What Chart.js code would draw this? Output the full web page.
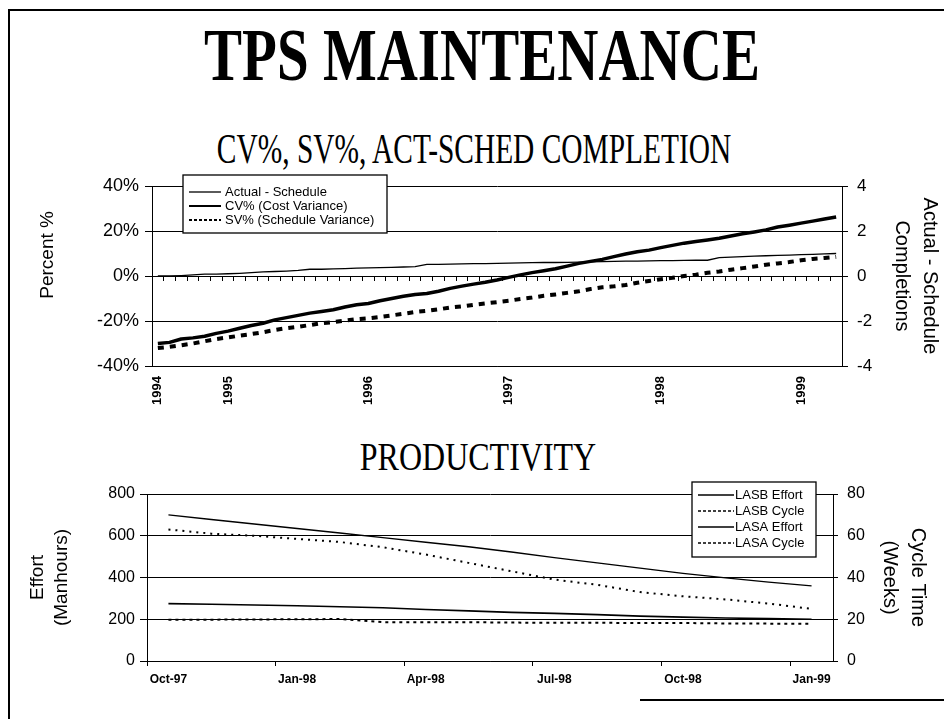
<!DOCTYPE html>
<html>
<head>
<meta charset="utf-8">
<script src="https://cdn.jsdelivr.net/npm/chart.js@4.4.0/dist/chart.umd.min.js"></script>
<style>
  body { margin: 0; background: #fff; }
  #page { position: relative; width: 944px; height: 719px; overflow: hidden; background: #fff; }
  .rule { position: absolute; background: #000; }
  .title {
    position: absolute; width: 944px; text-align: center; color: #000;
    font-family: "Liberation Serif", "Times New Roman", serif;
    line-height: 1; white-space: nowrap; transform-origin: 50% 50%;
  }
  canvas { position: absolute; left: 0; }
</style>
</head>
<body>
<div id="page">
  <div class="rule" style="left:8px; top:9px; width:2px; height:710px;"></div>
  <div class="rule" style="left:8px; top:9px; width:936px; height:2px;"></div>
  <div class="rule" style="left:640px; top:699px; width:304px; height:2px;"></div>

  <div class="title" style="left:10px; top:17px; font-size:75px; font-weight:bold; transform:scaleX(0.76);">TPS MAINTENANCE</div>
  <div class="title" style="left:2px; top:128px; font-size:42px; transform:scaleX(0.70);">CV%, SV%, ACT-SCHED COMPLETION</div>
  <div class="title" style="left:6px; top:437px; font-size:40px; transform:scaleX(0.80);">PRODUCTIVITY</div>

  <canvas id="topChart" width="944" height="260" style="top:160px;"></canvas>
  <canvas id="prodChart" width="944" height="249" style="top:470px;"></canvas>
</div>

<script>
// Top chart: monthly points, year label where the year starts
const topCategories = [
  '1994', '', '', '', '', '', '1995', '', '', '',
  '', '', '', '', '', '', '', '', '1996', '',
  '', '', '', '', '', '', '', '', '', '',
  '1997', '', '', '', '', '', '', '', '', '',
  '', '', '', '1998', '', '', '', '', '', '',
  '', '', '', '', '', '1999', '', '', ''
];

// Actual - Schedule completions (right axis)
const actualMinusSchedule = [
  0, 0, 0.02, 0.05, 0.08, 0.08, 0.1, 0.12, 0.15, 0.18,
  0.2, 0.22, 0.25, 0.3, 0.3, 0.32, 0.33, 0.35, 0.36, 0.37,
  0.38, 0.4, 0.42, 0.52, 0.52, 0.53, 0.54, 0.55, 0.55, 0.56,
  0.57, 0.58, 0.59, 0.6, 0.6, 0.61, 0.62, 0.63, 0.64, 0.65,
  0.66, 0.66, 0.67, 0.68, 0.68, 0.69, 0.7, 0.7, 0.82, 0.84,
  0.86, 0.88, 0.9, 0.92, 0.93, 0.95, 0.96, 0.98, 1.0
];

// CV% (left axis)
const cvPercent = [
  -30.0, -29.5, -28.0, -27.5, -26.8, -25.5, -24.5, -23.2, -22.0, -21.0,
  -19.5, -18.5, -17.5, -16.5, -15.8, -15.0, -13.8, -12.8, -12.2, -11.0,
  -10.0, -9.0, -8.2, -7.8, -6.8, -5.5, -4.5, -3.6, -2.8, -1.8,
  -0.6, 0.5, 1.5, 2.3, 3.2, 4.4, 5.6, 6.5, 7.4, 8.6,
  9.8, 10.8, 11.5, 12.6, 13.6, 14.6, 15.3, 16.0, 16.8, 17.8,
  18.8, 19.6, 20.5, 21.8, 22.6, 23.5, 24.4, 25.3, 26.2
];

// SV% (left axis)
const svPercent = [
  -32.0, -31.5, -30.8, -30.0, -29.0, -28.0, -27.3, -26.5, -25.8, -25.0,
  -24.0, -23.2, -22.6, -21.8, -21.0, -20.5, -19.8, -19.2, -18.8, -18.2,
  -17.5, -16.8, -16.0, -15.5, -14.8, -14.0, -13.5, -12.8, -12.2, -11.6,
  -11.0, -10.2, -9.6, -8.8, -8.2, -7.5, -6.8, -5.8, -5.0, -4.6,
  -4.0, -3.0, -2.2, -1.4, -0.8, 0.0, 0.6, 1.4, 2.0, 2.8,
  3.5, 4.2, 5.0, 5.6, 6.2, 7.0, 7.6, 8.0, 8.5
];

// Productivity chart
const prodMonths = [
  'Oct-97', 'Nov-97', 'Dec-97', 'Jan-98', 'Feb-98', 'Mar-98', 'Apr-98', 'May-98',
  'Jun-98', 'Jul-98', 'Aug-98', 'Sep-98', 'Oct-98', 'Nov-98', 'Dec-98', 'Jan-99'
];
const lasbEffort = [700, 678, 656, 635, 613, 591, 569, 547, 522, 495, 470, 445, 420, 398, 378, 360];
const lasbCycle = [63, 61, 60, 58.5, 57, 54.5, 51, 47, 43, 39, 36.5, 33, 31, 29.5, 27.5, 25];
const lasaEffort = [275, 272, 268, 265, 260, 255, 247, 240, 233, 228, 222, 215, 210, 206, 203, 200];
const lasaCycle = [19.8, 19.8, 19.9, 20, 20.1, 18.6, 18.5, 18.6, 18.4, 18.3, 18.3, 18.2, 18.2, 18.0, 17.9, 17.8];

const sansFont = '"Liberation Sans", Arial, sans-serif';

// Boxed legend drawn over the plot, like the old spreadsheet charts
const boxLegend = {
  id: 'boxLegend',
  afterDraw(chart, args, opts) {
    const { ctx, chartArea } = chart;
    const left = opts.side === 'right'
      ? chartArea.right - opts.offsetX - opts.width
      : chartArea.left + opts.offsetX;
    const top = chartArea.top + opts.offsetY;

    ctx.save();
    ctx.fillStyle = '#fff';
    ctx.fillRect(left, top, opts.width, opts.height);
    ctx.strokeStyle = '#000';
    ctx.lineWidth = 1.3;
    ctx.strokeRect(left, top, opts.width, opts.height);

    ctx.font = opts.fontSize + 'px ' + sansFont;
    ctx.textBaseline = 'middle';
    ctx.textAlign = 'left';
    chart.data.datasets.forEach((ds, i) => {
      const y = top + opts.firstRow + i * opts.rowGap;
      ctx.beginPath();
      ctx.lineWidth = Math.min(ds.borderWidth, opts.maxLineWidth);
      ctx.setLineDash(ds.borderDash ? opts.dash : []);
      ctx.moveTo(left + opts.sampleStart, y);
      ctx.lineTo(left + opts.sampleStart + opts.sampleLength, y);
      ctx.stroke();
      ctx.setLineDash([]);
      ctx.fillStyle = '#000';
      ctx.fillText(ds.label, left + opts.textStart, y);
    });
    ctx.restore();
  }
};

new Chart(document.getElementById('topChart'), {
  type: 'line',
  data: {
    labels: topCategories,
    datasets: [
      {
        label: 'Actual - Schedule',
        data: actualMinusSchedule,
        xAxisID: 'x', yAxisID: 'y2',
        borderColor: '#000', borderWidth: 1.3,
        pointRadius: 0
      },
      {
        label: 'CV% (Cost Variance)',
        data: cvPercent,
        xAxisID: 'x', yAxisID: 'y',
        borderColor: '#000', borderWidth: 3.5, borderJoinStyle: 'round',
        pointRadius: 0
      },
      {
        label: 'SV% (Schedule Variance)',
        data: svPercent,
        xAxisID: 'x', yAxisID: 'y',
        borderColor: '#000', borderWidth: 4, borderDash: [6, 6],
        pointRadius: 0
      }
    ]
  },
  options: {
    responsive: false,
    animation: false,
    layout: { padding: { top: 26, left: 0, right: 0, bottom: 0 } },
    plugins: {
      legend: { display: false },
      tooltip: { enabled: false },
      boxLegend: {
        side: 'left', offsetX: 31, offsetY: -11, width: 204, height: 58,
        firstRow: 17, rowGap: 14, sampleStart: 6, sampleLength: 32, textStart: 42,
        fontSize: 13, dash: [3, 2], maxLineWidth: 2
      }
    },
    scales: {
      x: {
        type: 'category',
        position: 'bottom',
        offset: true,
        grid: { display: false, drawTicks: false, offset: true },
        border: { display: true, color: '#000', width: 1 },
        ticks: {
          autoSkip: false, minRotation: 90, maxRotation: 90, padding: 10,
          color: '#000', font: { family: sansFont, size: 13, weight: 'bold' }
        },
        afterFit: s => { s.height = 54; }
      },
      xz: {
        type: 'category',
        position: { y: 0 },
        offset: true,
        grid: { offset: true, drawOnChartArea: false, tickLength: 4, tickColor: '#000', tickWidth: 1 },
        border: { display: true, color: '#000', width: 1 },
        ticks: { display: false }
      },
      y: {
        position: 'left',
        min: -40, max: 40,
        grid: { color: '#000', lineWidth: 1, tickLength: 7, tickColor: '#000' },
        border: { color: '#000', width: 1 },
        ticks: {
          stepSize: 20, padding: 6, color: '#000',
          font: { family: sansFont, size: 18 },
          callback: v => v + '%'
        },
        title: {
          // leading spaces lift the title a little above the axis centre, as in the original
          display: true, text: '        Percent %', color: '#000',
          font: { family: sansFont, size: 19 }, padding: { top: 36, bottom: 0 }
        },
        afterFit: s => { s.width = 152; }
      },
      y2: {
        position: 'right',
        min: -4, max: 4,
        grid: { drawOnChartArea: false, tickLength: 6, tickColor: '#000' },
        border: { color: '#000', width: 1 },
        ticks: {
          stepSize: 2, padding: 9, color: '#000',
          font: { family: sansFont, size: 17 }
        },
        title: {
          display: true, text: ['Actual - Schedule', 'Completions'], color: '#000',
          font: { family: sansFont, size: 20, lineHeight: 1.4 }, padding: { top: 0, bottom: 0 }
        },
        afterFit: s => { s.width = 102; }
      }
    }
  },
  plugins: [boxLegend]
});

new Chart(document.getElementById('prodChart'), {
  type: 'line',
  data: {
    labels: prodMonths,
    datasets: [
      {
        label: 'LASB Effort', data: lasbEffort, yAxisID: 'y',
        borderColor: '#000', borderWidth: 1.4, pointRadius: 0
      },
      {
        label: 'LASB Cycle', data: lasbCycle, yAxisID: 'y2',
        borderColor: '#000', borderWidth: 2, borderDash: [2, 5], pointRadius: 0
      },
      {
        label: 'LASA Effort', data: lasaEffort, yAxisID: 'y',
        borderColor: '#000', borderWidth: 1.6, pointRadius: 0
      },
      {
        label: 'LASA Cycle', data: lasaCycle, yAxisID: 'y2',
        borderColor: '#000', borderWidth: 2, borderDash: [3, 4], pointRadius: 0
      }
    ]
  },
  options: {
    responsive: false,
    animation: false,
    layout: { padding: { top: 24, left: 0, right: 0, bottom: 0 } },
    plugins: {
      legend: { display: false },
      tooltip: { enabled: false },
      boxLegend: {
        side: 'right', offsetX: 17, offsetY: -12, width: 124, height: 75,
        firstRow: 13, rowGap: 16, sampleStart: 6, sampleLength: 36, textStart: 43,
        fontSize: 13, dash: [3, 2], maxLineWidth: 1.5
      }
    },
    scales: {
      x: {
        offset: true,
        grid: {
          offset: true, drawOnChartArea: false, tickLength: 5,
          tickColor: c => (c.index % 3 === 0 ? '#000' : 'rgba(0,0,0,0)')
        },
        border: { color: '#000', width: 1 },
        ticks: {
          autoSkip: false, maxRotation: 0, padding: 6, color: '#000',
          font: { family: sansFont, size: 12, weight: 'bold' },
          callback: (v, i) => (i % 3 === 0 ? prodMonths[i] : '')
        },
        afterFit: s => { s.height = 58; }
      },
      y: {
        position: 'left',
        min: 0, max: 800,
        grid: { color: '#000', lineWidth: 1, tickLength: 7, tickColor: '#000' },
        border: { color: '#000', width: 1 },
        ticks: { stepSize: 200, padding: 5, color: '#000', font: { family: sansFont, size: 16 } },
        title: {
          display: true, text: ['Effort', '(Manhours)'], color: '#000',
          font: { family: sansFont, size: 19, lineHeight: 1.26 }, padding: { top: 26, bottom: 0 }
        },
        afterFit: s => { s.width = 147; }
      },
      y2: {
        position: 'right',
        min: 0, max: 80,
        grid: { drawOnChartArea: false, tickLength: 5, tickColor: '#000' },
        border: { color: '#000', width: 1 },
        ticks: { stepSize: 20, padding: 9, color: '#000', font: { family: sansFont, size: 16 } },
        title: {
          display: true, text: ['Cycle Time', '(Weeks)'], color: '#000',
          font: { family: sansFont, size: 20, lineHeight: 1.4 }, padding: { top: 12, bottom: 0 }
        },
        afterFit: s => { s.width = 111; }
      }
    }
  },
  plugins: [boxLegend]
});
</script>
</body>
</html>
